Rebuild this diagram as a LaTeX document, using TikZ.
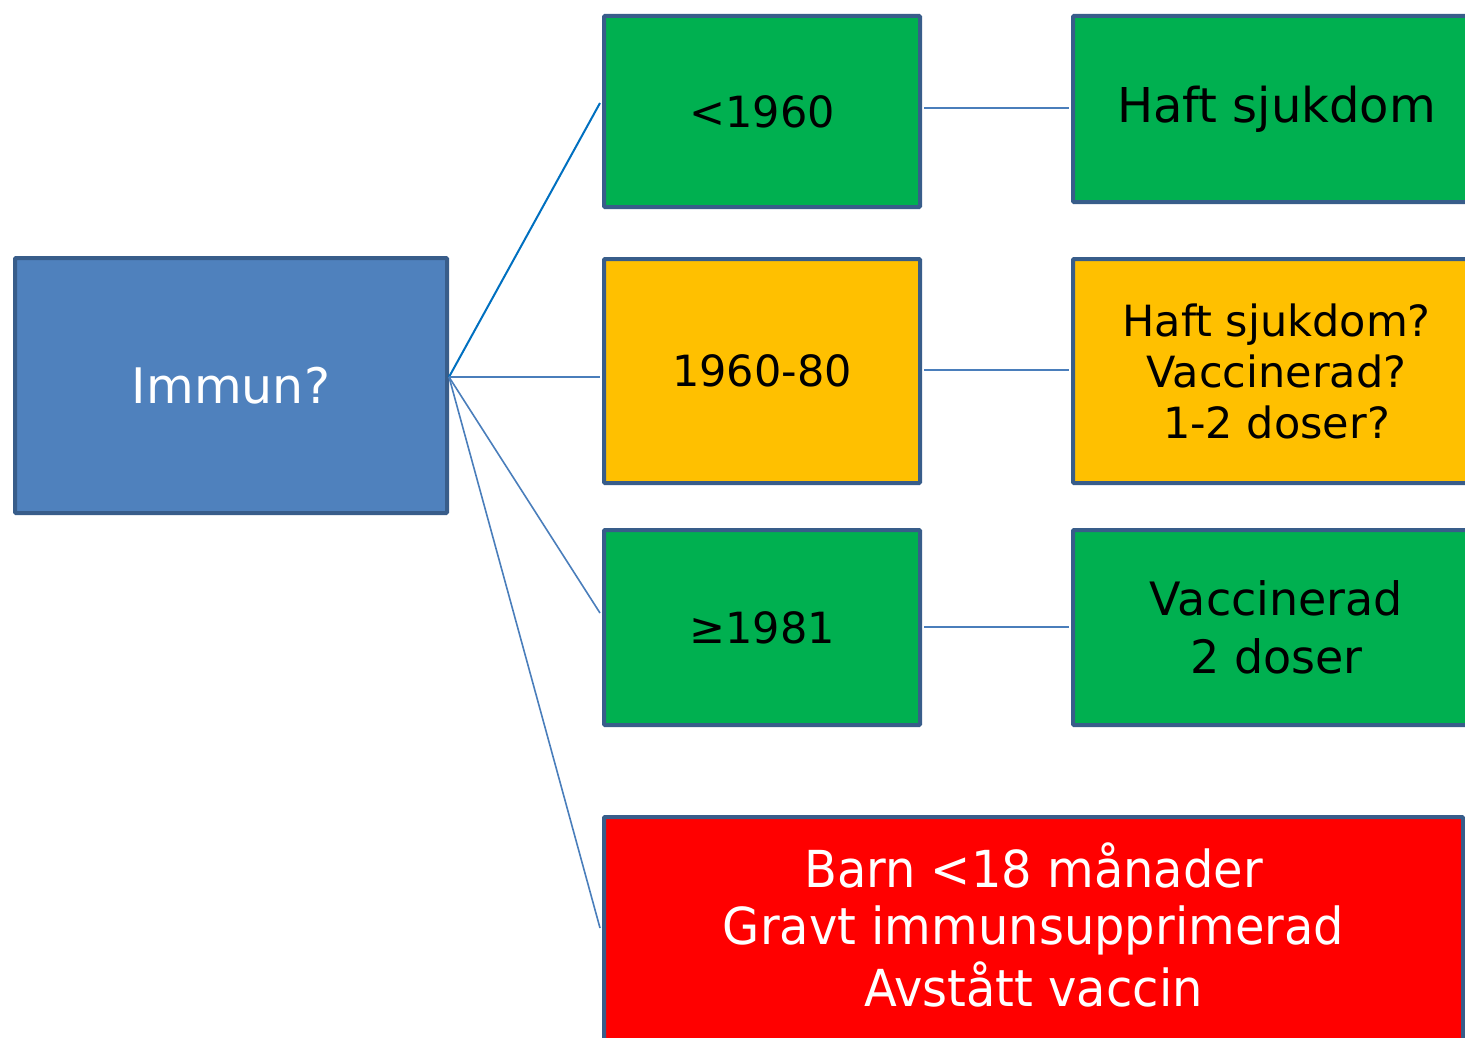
\documentclass[tikz,border=0pt]{standalone}
\usepackage{fontspec}
\setmainfont{DejaVu Sans}
\usetikzlibrary{calc}
\definecolor{bfill}{HTML}{4F81BD}
\definecolor{bline}{HTML}{385D8A}
\definecolor{gfill}{HTML}{00B050}
\definecolor{ofill}{HTML}{FFC000}
\definecolor{rfill}{HTML}{FF0000}
\definecolor{conn}{HTML}{4A7EBB}
\definecolor{conndark}{HTML}{0070C0}
\tikzset{
  box/.style={draw=bline, line width=4pt, rounded corners=1pt, inner sep=0pt, align=center, anchor=center},
  conline/.style={draw=conn, line width=1.6pt},
}
\newcommand{\fs}[2]{\fontsize{#1}{#2}\selectfont}
\begin{document}
\begin{tikzpicture}[x=1pt,y=-1pt]
\useasboundingbox (0,0) rectangle (1465,1038);
\clip (0,0) rectangle (1465,1038);
\fill[white] (0,0) rectangle (1465,1038);
% left box
\node[box, fill=bfill, text=white, minimum width=432pt, minimum height=255pt, font=\fs{49}{56}] (im) at (231,385.5) {Immun?};
% middle column
\node[box, fill=gfill, minimum width=316pt, minimum height=191pt, font=\fs{43}{50}] (b1) at (762,111.5) {\raisebox{-3pt}{<1960}};
\node[box, fill=ofill, minimum width=316pt, minimum height=224pt, font=\fs{43}{50}] (b2) at (762,371) {1960-80};
\node[box, fill=gfill, minimum width=316pt, minimum height=195pt, font=\fs{43}{50}] (b3) at (762,627.5) {≥1981};
% right column
\node[box, fill=gfill, minimum width=407pt, minimum height=186pt, font=\fs{48}{56}] (r1) at (1276.5,109) {Haft sjukdom};
\node[box, fill=ofill, minimum width=407pt, minimum height=224pt, font=\fs{43}{51}] (r2) at (1276.5,371) {Haft sjukdom?\\Vaccinerad?\\1-2 doser?};
\node[box, fill=gfill, minimum width=407pt, minimum height=195pt, font=\fs{46}{58}] (r3) at (1276.5,627.5) {Vaccinerad\\2 doser};
% red box
\node[box, fill=rfill, text=white, minimum width=859pt, minimum height=233pt] (rd) at (1033.5,933.5) {\raisebox{-5pt}{\scalebox{0.94}[1]{\fs{51}{57}\begin{tabular}{c}Barn <18 månader\\Gravt immunsupprimerad\\Avstått vaccin\end{tabular}}}};
% junction
\coordinate (j) at (449,377);
\draw[draw=conndark, line width=2pt] (j) -- ($(b1.west)+(-2,-8.5)$);
\draw[conline] (j) -- ($(b2.west)+(-2,6)$);
\draw[conline] (j) -- ($(b3.west)+(-2,-14.5)$);
\draw[conline] (j) -- ($(rd.west)+(-2,-5.5)$);
% horizontal connectors
\draw[conline] ($(b1.east)+(2,-3.5)$) -- ($(r1.west)+(-2,-1)$);
\draw[conline] ($(b2.east)+(2,-1)$) -- ($(r2.west)+(-2,-1)$);
\draw[conline] ($(b3.east)+(2,-0.5)$) -- ($(r3.west)+(-2,-0.5)$);
\end{tikzpicture}
\end{document}
